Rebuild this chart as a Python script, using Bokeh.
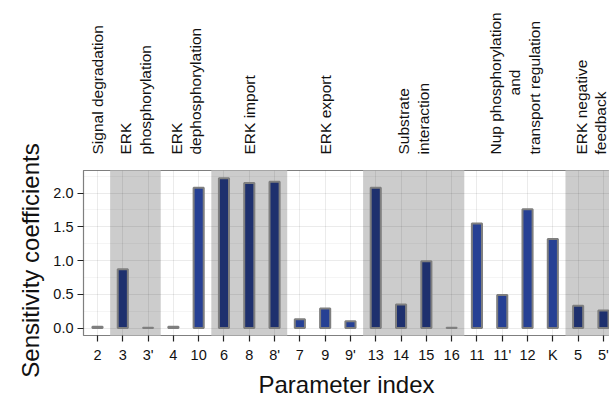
import math
from bokeh.plotting import figure
from bokeh.layouts import column, row
from bokeh.models import Range1d, FixedTicker, PrintfTickFormatter, ColumnDataSource
from bokeh.core.properties import value
from bokeh.embed import file_html
from bokeh.resources import INLINE

# Parameter indices, in the order they are grouped along the x axis
params = ["2", "3", "3'", "4", "10", "6", "8", "8'", "7", "9", "9'",
          "13", "14", "15", "16", "11", "11'", "12", "K", "5", "5'"]
# Sensitivity coefficient of each parameter
coeffs = [0.02, 0.87, 0.005, 0.02, 2.08, 2.22, 2.15, 2.17, 0.13, 0.29, 0.10,
          2.08, 0.35, 0.99, 0.005, 1.55, 0.49, 1.76, 1.32, 0.33, 0.26]

# Process groups (one tuple of text lines per group) and how many parameters each holds
group_lines = [
    ("Signal degradation",),
    ("ERK", "phosphorylation"),
    ("ERK", "dephosphorylation"),
    ("ERK import",),
    ("ERK export",),
    ("Substrate", "interaction"),
    ("Nup phosphorylation", "and", "transport regulation"),
    ("ERK negative", "feedback"),
]
group_sizes = [1, 2, 2, 3, 3, 4, 4, 2]

FONT = "Liberation Sans"
BAR_LIGHT = "#264094"
BAR_DARK = "#1e306e"
BAND = "#cccccc"
TEXT = "#111111"

LEFT_W = 46          # width of the strip holding the y-axis title
TOTAL_W, TOTAL_H = 609, 401
TITLES_H = 170       # height of the group-title strip above the panel

# group membership -> start/end index and shading (every second group shaded)
starts, ends, shaded_flags = [], [], []
pos = 0
for gi, n in enumerate(group_sizes):
    starts.append(pos)
    ends.append(pos + n - 1)
    shaded_flags.append(gi % 2 == 1)
    pos += n

xs = list(range(len(params)))
bar_colors = []
for i in xs:
    g = next(k for k in range(len(group_sizes)) if starts[k] <= i <= ends[k])
    bar_colors.append(BAR_DARK if shaded_flags[g] else BAR_LIGHT)

x_range = Range1d(-0.553, 20.24)

# ---- main panel ----
p = figure(width=TOTAL_W - LEFT_W, height=TOTAL_H - TITLES_H,
           x_range=x_range, y_range=Range1d(-0.11, 2.335),
           output_backend="svg", toolbar_location=None,
           min_border_left=83 - LEFT_W, min_border_right=0,
           min_border_top=0, min_border_bottom=66)
p.background_fill_color = "white"
p.border_fill_color = "white"
p.outline_line_color = "#7f7f7f"
p.outline_line_width = 1.2

# shaded group bands, under the grid
band_src = ColumnDataSource(dict(
    left=[starts[k] - 0.5 for k in range(len(starts)) if shaded_flags[k]],
    right=[ends[k] + 0.5 for k in range(len(ends)) if shaded_flags[k]],
))
bands = p.quad(left="left", right="right", bottom=-1, top=3, source=band_src,
               fill_color=BAND, line_color=None)
bands.level = "image"

bar_src = ColumnDataSource(dict(x=xs, top=coeffs, color=bar_colors))
p.vbar(x="x", top="top", bottom=0, width=0.4, source=bar_src,
       fill_color="color", line_color="#7f7f7f", line_width=2)

# grid
p.xgrid.ticker = FixedTicker(ticks=xs)
p.xgrid.grid_line_color = "black"
p.xgrid.grid_line_alpha = 0.08
p.ygrid.ticker = FixedTicker(ticks=[0, 0.5, 1.0, 1.5, 2.0],
                             minor_ticks=[0.25, 0.75, 1.25, 1.75, 2.25])
p.ygrid.grid_line_color = "black"
p.ygrid.grid_line_alpha = 0.08
p.ygrid.minor_grid_line_color = "black"
p.ygrid.minor_grid_line_alpha = 0.04

# axes
p.xaxis.ticker = FixedTicker(ticks=xs)
p.xaxis.major_label_overrides = {i: lab for i, lab in enumerate(params)}
p.yaxis.ticker = FixedTicker(ticks=[0, 0.5, 1.0, 1.5, 2.0])
p.yaxis.formatter = PrintfTickFormatter(format="%.1f")
p.xaxis.axis_label = "Parameter index"
for ax in (p.xaxis, p.yaxis):
    ax.axis_line_color = None
    ax.major_tick_line_color = "#222222"
    ax.major_tick_line_width = 1.2
    ax.major_tick_in = 0
    ax.major_tick_out = 6
    ax.minor_tick_line_color = None
    ax.major_label_text_font = FONT
    ax.major_label_text_font_size = "14.5px"
    ax.major_label_text_color = TEXT
p.xaxis.axis_label_text_font = FONT
p.xaxis.axis_label_text_font_size = "24px"
p.xaxis.axis_label_text_font_style = "normal"
p.xaxis.axis_label_text_color = TEXT
p.xaxis.major_label_standoff = 5
p.yaxis.major_label_standoff = 4
p.xaxis.axis_label_standoff = 5


def blank_strip(width, height, xr, yr, border_left=0):
    f = figure(width=width, height=height, x_range=xr, y_range=yr,
               output_backend="svg", toolbar_location=None,
               x_axis_type=None, y_axis_type=None,
               min_border_left=border_left, min_border_right=0,
               min_border_top=0, min_border_bottom=0)
    f.outline_line_color = None
    f.background_fill_color = "white"
    f.border_fill_color = "white"
    return f


# ---- group titles above the panel (y in pixels, 0 = panel top) ----
top = blank_strip(TOTAL_W - LEFT_W, TITLES_H, x_range, Range1d(0, TITLES_H),
                  border_left=83 - LEFT_W)

LINE_STEP = 0.77   # spacing between stacked text lines, in category units
base = dict(x=[], y=[], text=[])
mid = dict(x=[], y=[], text=[])
for k, lines in enumerate(group_lines):
    center = (starts[k] + ends[k]) / 2
    n = len(lines)
    for j, line in enumerate(lines):
        xj = center + (j - (n - 1) / 2) * LINE_STEP
        if n == 3 and j == 1:
            mid["x"].append(xj); mid["y"].append(16 + 72); mid["text"].append(line)
        else:
            base["x"].append(xj); base["y"].append(16); base["text"].append(line)

for data, align in ((base, "left"), (mid, "center")):
    top.text(x="x", y="y", text="text", source=ColumnDataSource(data),
             angle=math.pi / 2, text_align=align, text_baseline="middle",
             text_font=value(FONT), text_font_size="15.5px", text_color=TEXT)

# ---- y-axis title strip on the left (pixel coordinates, y up) ----
left = blank_strip(LEFT_W, TOTAL_H, Range1d(0, LEFT_W), Range1d(0, TOTAL_H))
left.text(x=[30], y=[TOTAL_H - 260], text=["Sensitivity coefficients"],
          angle=math.pi / 2, text_align="center", text_baseline="middle",
          text_font=value(FONT), text_font_size="24px", text_color=TEXT)

layout = row(left, column(top, p, spacing=0), spacing=0)
open("out.html", "w").write(file_html(layout, INLINE))
